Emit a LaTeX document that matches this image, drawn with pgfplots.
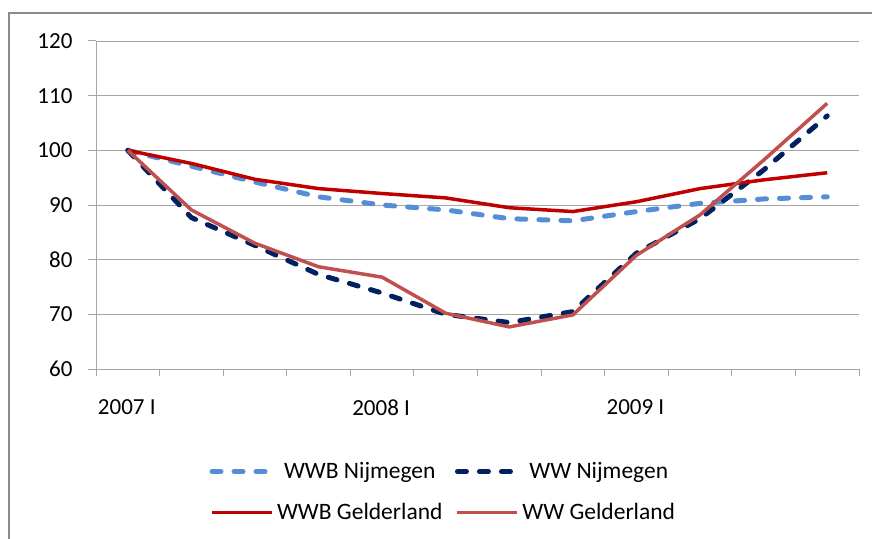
\documentclass[border=0pt]{standalone}
\usepackage{fontspec}
\setmainfont{Carlito}
\usepackage{pgfplots}
\pgfplotsset{compat=1.18}
\definecolor{wwbnij}{HTML}{558ED5}
\definecolor{wwnij}{HTML}{002060}
\definecolor{wwbgel}{HTML}{C00000}
\definecolor{wwgel}{HTML}{C0504D}
\definecolor{gridg}{HTML}{A6A6A6}
\definecolor{frameg}{HTML}{8C8C8C}
\pgfplotstableread{
q wwbnij wwnij wwbgel wwgel
0  100.0 100.0 100.0 100.0
1  97.1  87.7  97.6  89.1
2  94.2  82.6  94.7  83.0
3  91.5  77.3  93.0  78.7
4  90.0  73.9  92.1  76.8
5  89.1  70.0  91.3  70.2
6  87.5  68.5  89.5  67.7
7  87.1  70.5  88.8  69.9
8  88.8  81.2  90.6  80.8
9  90.3  87.5  93.0  88.2
10 91.1  96.4  94.6  98.2
11 91.5  106.3 95.9  108.6
}\datatable
\begin{document}
\begin{tikzpicture}[x=1pt,y=1pt]
\begin{axis}[
  at={(96pt,169pt)}, anchor=south west,
  scale only axis, width=763pt, height=328pt,
  xmin=-0.5, xmax=11.5, ymin=60, ymax=120,
  xtick={0,4,8}, xticklabels={2007 I,2008 I,2009 I},
  minor xtick={-0.5,0.5,...,11.5},
  major x tick style={draw=none},
  minor tick length=7pt,
  ytick={60,70,...,120}, major tick length=8pt,
  tick align=outside,
  ymajorgrids, grid style={gridg, line width=0.8pt},
  axis x line*=bottom, axis y line*=left,
  axis line style={gridg, line width=1pt},
  tick style={gridg, line width=1pt},
  /pgf/number format/assume math mode=true,
  ticklabel style={font=\fontsize{23}{27}\selectfont, text=black},
  xticklabel style={yshift=-19pt, xshift=-1pt},
  yticklabel style={xshift=-12pt},
  legend columns=2,
  legend style={draw=none, fill=none, at={(0.4555,-0.375)}, anchor=center,
    font=\fontsize{23.5}{27}\selectfont, row sep=18pt,
    nodes={inner sep=2.5pt},
    /tikz/every even column/.append style={column sep=10pt}},
  legend image code/.code={\draw[#1] (0pt,0pt) -- (60pt,0pt);},
  every axis plot/.append style={line join=round},
]
\addplot[wwbnij, line width=5pt, line cap=round, dash pattern=on 9pt off 13pt] table[x=q,y=wwbnij]{\datatable};
\addlegendentry{WWB Nijmegen}
\addplot[wwnij, line width=5pt, line cap=round, dash pattern=on 9pt off 13pt] table[x=q,y=wwnij]{\datatable};
\addlegendentry{WW Nijmegen}
\addplot[wwbgel, line width=3.5pt] table[x=q,y=wwbgel]{\datatable};
\addlegendentry{WWB Gelderland}
\addplot[wwgel, line width=3.5pt] table[x=q,y=wwgel]{\datatable};
\addlegendentry{WW Gelderland}
\end{axis}
\draw[frameg, line width=2pt] (9pt,-5pt) -- (9pt,525pt) -- (880pt,525pt);
\pgfresetboundingbox
\path (0pt,0pt) rectangle (872pt,538pt);
\end{tikzpicture}
\end{document}
